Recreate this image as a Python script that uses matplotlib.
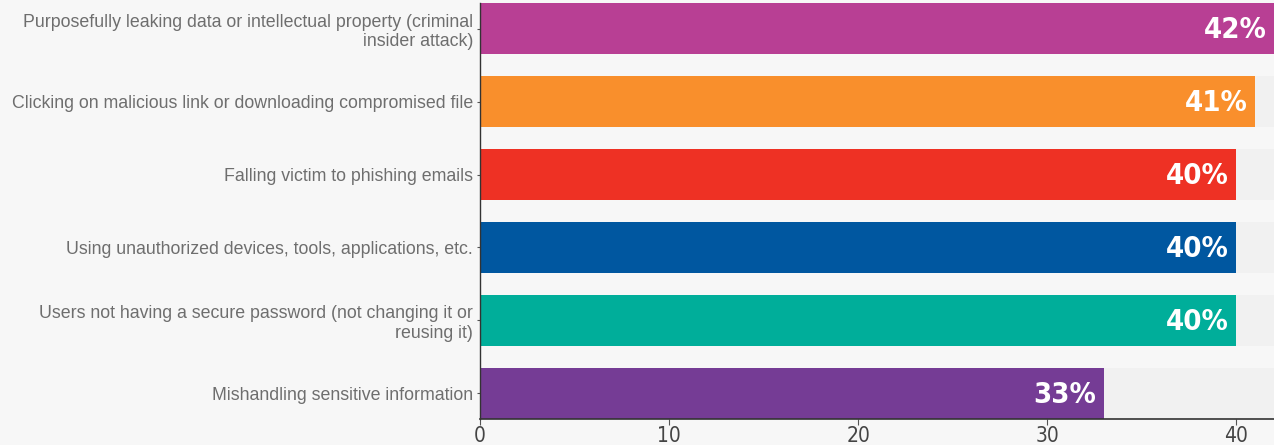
import matplotlib
matplotlib.use("Agg")
import matplotlib.pyplot as plt

categories = [
    "Purposefully leaking data or intellectual property (criminal\ninsider attack)",
    "Clicking on malicious link or downloading compromised file",
    "Falling victim to phishing emails",
    "Using unauthorized devices, tools, applications, etc.",
    "Users not having a secure password (not changing it or\nreusing it)",
    "Mishandling sensitive information",
]
values = [42, 41, 40, 40, 40, 33]
value_labels = ["42%", "41%", "40%", "40%", "40%", "33%"]
colors = ["#b83f94", "#f98f2c", "#ee3124", "#0057a0", "#00ae9a", "#753c95"]
xticks = [0, 10, 20, 30, 40]

BG = "#f7f7f7"
BAND = "#f1f1f1"
XMAX = 42

fig = plt.figure(figsize=(12.74, 4.45), dpi=100, facecolor=BG)
ax = fig.add_axes([480 / 1274, 26 / 445, 794 / 1274, 416 / 445])
ax.set_facecolor(BG)

pos = list(range(len(categories)))
h = 0.7
ax.barh(pos, [XMAX] * len(pos), height=h, color=BAND, zorder=1)
ax.barh(pos, values, height=h, color=colors, zorder=2)

for y, v, lab in zip(pos, values, value_labels):
    ax.text(v - 0.4, y + 0.02, lab, ha="right", va="center", color="white",
            fontsize=21, fontweight="bold", fontstretch="condensed",
            family="DejaVu Sans", zorder=3)

ax.set_xlim(0, XMAX)
ax.set_ylim(len(pos) - 1 + h / 2, -h / 2)
ax.set_yticks(pos)
ax.set_yticklabels(categories, fontsize=12.8, color="#6e6e6e",
                   family=["Liberation Sans", "DejaVu Sans"], linespacing=1.2)
ax.set_xticks(xticks)
ax.set_xticklabels([str(t) for t in xticks], fontsize=15, color="#444444",
                   family="DejaVu Sans", fontstretch="condensed")
for lab in ax.get_yticklabels():
    lab.set_horizontalalignment("right")

for s in ["top", "right"]:
    ax.spines[s].set_visible(False)
ax.spines["left"].set_color("#333333")
ax.spines["bottom"].set_color("#333333")
ax.spines["left"].set_linewidth(1)
ax.spines["bottom"].set_linewidth(1.2)
ax.tick_params(axis="y", length=2, color="#555555", pad=3)
ax.tick_params(axis="x", length=4, color="#555555", pad=1)

fig.savefig("out.png", dpi=100, facecolor=BG)
